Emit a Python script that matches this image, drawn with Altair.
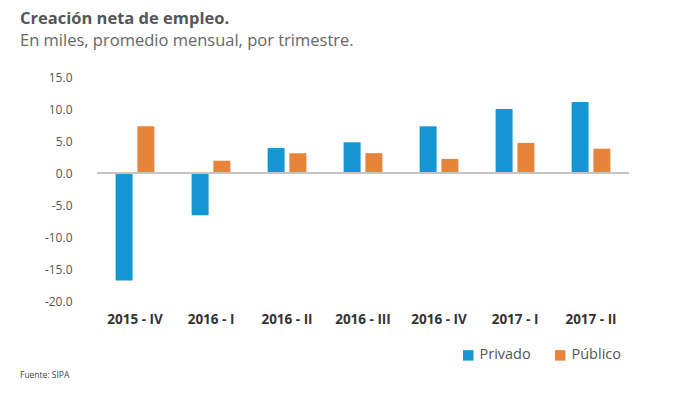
import altair as alt
import pandas as pd

trimestres = ["2015 - IV", "2016 - I", "2016 - II", "2016 - III", "2016 - IV", "2017 - I", "2017 - II"]
privado = [-16.8, -6.6, 3.9, 4.8, 7.3, 10.0, 11.1]
publico = [7.3, 1.9, 3.1, 3.1, 2.2, 4.7, 3.8]
series = ["Privado", "Público"]
colores = ["#1696D2", "#E8843A"]
y_ticks = [-20, -15, -10, -5, 0, 5, 10, 15]

rows = []
for t, p, q in zip(trimestres, privado, publico):
    rows.append({"trimestre": t, "sector": "Privado", "valor": p})
    rows.append({"trimestre": t, "sector": "Público", "valor": q})
df = pd.DataFrame(rows)

FONT = "Open Sans"

y_axis = alt.Axis(values=y_ticks, domain=False, ticks=False, grid=False, labelOverlap=False,
                  labelExpr="(datum.value < 0 ? '-' : '') + format(abs(datum.value), '.1f')",
                  labelFontSize=12, labelColor="#555555", labelPadding=25, labelFont=FONT)
y_scale = alt.Scale(domain=[-20, 15], nice=False, zero=False)

bars = alt.Chart(df).mark_bar().encode(
    x=alt.X("trimestre:N", sort=trimestres, title=None,
            scale=alt.Scale(paddingInner=0.49, paddingOuter=0.245),
            axis=alt.Axis(labelAngle=0, domain=False, ticks=False, labelFontWeight="bold",
                          labelFontSize=13.5, labelColor="#333333", labelPadding=11, labelFont=FONT)),
    xOffset=alt.XOffset("sector:N", sort=series, scale=alt.Scale(paddingInner=0.22)),
    y=alt.Y("valor:Q", title=None, scale=y_scale, axis=y_axis),
    color=alt.Color("sector:N", sort=series, scale=alt.Scale(domain=series, range=colores),
                    legend=alt.Legend(title=None, orient="none", legendX=364, legendY=271,
                                      direction="horizontal", symbolType="square", symbolSize=110,
                                      symbolStrokeWidth=0, labelFontSize=14.5, labelColor="#555555",
                                      labelFont=FONT, columnPadding=22, labelOffset=4)),
)

zero = alt.Chart(pd.DataFrame({"valor": [0]})).mark_rule(color="#C4C4C4", strokeWidth=2).encode(
    y=alt.Y("valor:Q", title=None, scale=y_scale, axis=y_axis))

fuente = alt.Chart(pd.DataFrame({"t": ["Fuente: SIPA"]})).mark_text(
    align="left", baseline="middle", fontSize=8.5, color="#444444", font=FONT
).encode(text="t:N", x=alt.value(-77), y=alt.value(298))

chart = alt.layer(bars, zero, fuente).properties(
    width=532, height=224,
    padding={"left": 89, "top": 69, "right": 40, "bottom": 80},
    autosize=alt.AutoSizeParams(type="none"),
    title=alt.TitleParams(
        text="Creación neta de empleo.",
        subtitle="En miles, promedio mensual, por trimestre.",
        anchor="start", frame="group", dx=-77, offset=22,
        font=FONT, fontSize=16.5, fontWeight="bold", color="#555555",
        subtitleFont=FONT, subtitleFontSize=16.5, subtitleColor="#666666", subtitlePadding=5,
    ),
).configure_view(stroke=None)

chart.save("out.html", embed_options={"renderer": "svg", "actions": False})
